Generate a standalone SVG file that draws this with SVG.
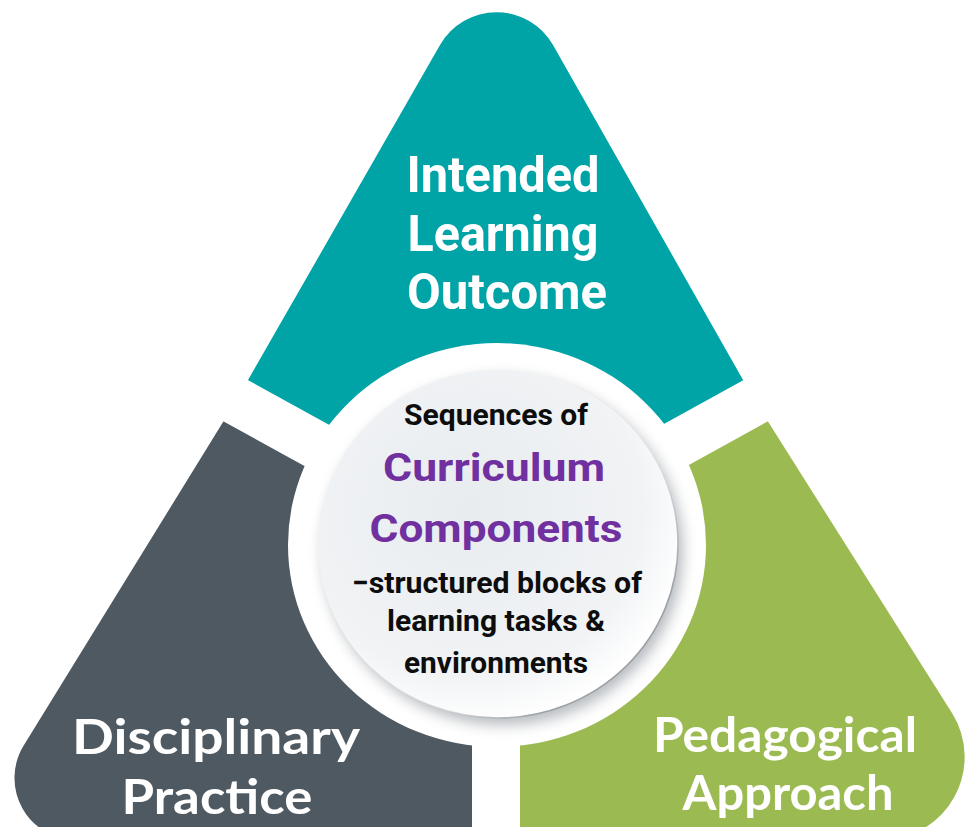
<svg xmlns="http://www.w3.org/2000/svg" width="967" height="827" viewBox="0 0 967 827">
  <style>
    .lbl { font-family: Roboto, "Liberation Sans", sans-serif; font-weight: 700; fill: #ffffff; text-anchor: middle; }
    .lbl2 { font-family: Lato, "Open Sans", "Liberation Sans", sans-serif; font-weight: 700; fill: #ffffff; text-anchor: middle; }
    .blk { font-family: Roboto, "Liberation Sans", sans-serif; font-weight: 700; fill: #0d0d0d; text-anchor: middle; font-size: 30px; }
    .pur { font-family: Roboto, "Liberation Sans", sans-serif; font-weight: 700; fill: #7030A0; text-anchor: middle; font-size: 38px; }
  </style>
  <defs>
    <path id="tri" d="M 440 45 A 65 65 0 0 1 553 45 L 755 401 L 952 713 A 83 83 0 0 1 882 840 L 77 840 A 62 62 0 0 1 24 745 L 236 401 Z"/>
    <clipPath id="clipTop"><polygon points="496,544 -380,62 -380,-100 1380,-100 1371,61"/></clipPath>
    <clipPath id="clipLeft"><polygon points="496,544 -380,62 -380,900 496,900"/></clipPath>
    <clipPath id="clipRight"><polygon points="496,544 496,900 1380,900 1371,61"/></clipPath>
    <mask id="gaps" maskUnits="userSpaceOnUse" x="0" y="0" width="967" height="827">
      <rect x="0" y="0" width="967" height="827" fill="#fff"/>
      <g stroke="#000" stroke-width="48" fill="none">
        <line x1="496" y1="544" x2="-380" y2="62"/>
        <line x1="496" y1="544" x2="1371" y2="61"/>
        <line x1="496" y1="544" x2="496" y2="900"/>
      </g>
      <ellipse cx="497" cy="545" rx="209" ry="202" fill="#000"/>
    </mask>
    <radialGradient id="disc" cx="0.42" cy="0.4" r="0.62">
      <stop offset="0" stop-color="#e8ecef"/>
      <stop offset="0.78" stop-color="#f1f3f5"/>
      <stop offset="1" stop-color="#ffffff"/>
    </radialGradient>
    <linearGradient id="rim" x1="0" y1="0" x2="1" y2="1">
      <stop offset="0.45" stop-color="#ffffff" stop-opacity="0"/>
      <stop offset="0.8" stop-color="#9ea3a9"/>
      <stop offset="1" stop-color="#8a9097"/>
    </linearGradient>
    <filter id="soft" x="-20%" y="-20%" width="140%" height="140%">
      <feGaussianBlur stdDeviation="7"/>
    </filter>
  </defs>

  <g mask="url(#gaps)">
    <g id="node-intended-learning-outcome">
      <use href="#tri" fill="#00A3A6" clip-path="url(#clipTop)"/>
    </g>
    <g id="node-disciplinary-practice">
      <use href="#tri" fill="#4F5961" clip-path="url(#clipLeft)"/>
    </g>
    <g id="node-pedagogical-approach">
      <use href="#tri" fill="#9BBB52" clip-path="url(#clipRight)"/>
    </g>
  </g>

  <g id="connectors"></g>

  <g id="labels-outer">
    <text class="lbl" x="503" y="192" font-size="50" textLength="193" lengthAdjust="spacingAndGlyphs">Intended</text>
    <text class="lbl" x="503" y="251" font-size="50" textLength="191" lengthAdjust="spacingAndGlyphs">Learning</text>
    <text class="lbl" x="507" y="309" font-size="50" textLength="200" lengthAdjust="spacingAndGlyphs">Outcome</text>
    <text class="lbl2" x="216" y="754" font-size="48" textLength="288" lengthAdjust="spacingAndGlyphs">Disciplinary</text>
    <text class="lbl2" x="217" y="814" font-size="48" textLength="191" lengthAdjust="spacingAndGlyphs">Practice</text>
    <text class="lbl2" x="785" y="752" font-size="48" textLength="264" lengthAdjust="spacingAndGlyphs">Pedagogical</text>
    <text class="lbl2" x="788" y="810" font-size="48" textLength="211" lengthAdjust="spacingAndGlyphs">Approach</text>
  </g>

  <g id="node-curriculum-components">
    <ellipse cx="503" cy="551" rx="180" ry="174" fill="#7d848c" opacity="0.55" filter="url(#soft)"/>
    <ellipse cx="498" cy="544" rx="180" ry="174" fill="url(#disc)" stroke="url(#rim)" stroke-width="1.6"/>
    <text class="blk" x="496" y="425" textLength="184" lengthAdjust="spacingAndGlyphs">Sequences of</text>
    <text class="pur" x="494" y="481" textLength="222" lengthAdjust="spacingAndGlyphs">Curriculum</text>
    <text class="pur" x="496" y="542" textLength="253" lengthAdjust="spacingAndGlyphs">Components</text>
    <text class="blk" x="497" y="593" textLength="290" lengthAdjust="spacingAndGlyphs">−structured blocks of</text>
    <text class="blk" x="496" y="631" textLength="218" lengthAdjust="spacingAndGlyphs">learning tasks &amp;</text>
    <text class="blk" x="496" y="673" textLength="184" lengthAdjust="spacingAndGlyphs">environments</text>
  </g>
</svg>
